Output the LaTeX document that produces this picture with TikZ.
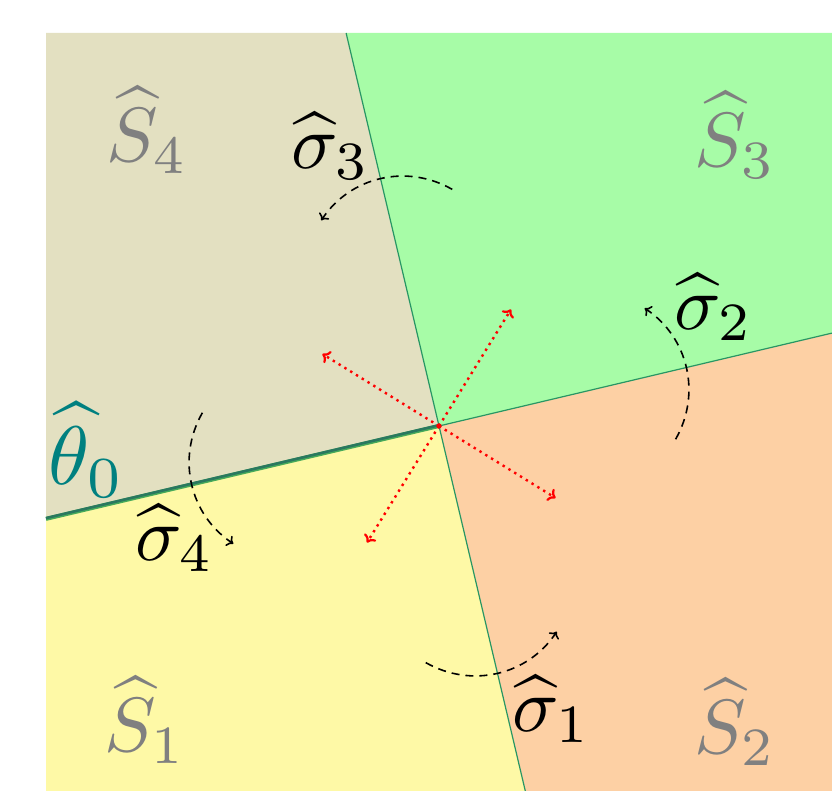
\documentclass[tikz,border=0pt]{standalone}
\usetikzlibrary{arrows.meta}
\definecolor{cbeige}{RGB}{227,224,193}
\definecolor{cgreen}{RGB}{167,252,167}
\definecolor{corange}{RGB}{253,208,164}
\definecolor{cyellow}{RGB}{254,249,166}
\definecolor{cbound}{RGB}{40,150,100}
\definecolor{ctheta}{RGB}{42,120,95}
\definecolor{cthetaedge}{RGB}{70,170,90}
\definecolor{clabel}{RGB}{128,128,128}
\begin{document}
\begin{tikzpicture}[x=1pt,y=1pt,
  bound/.style={draw=cbound,line width=1.2pt},
  thetaedge/.style={draw=cthetaedge,line width=4pt},
  thetaline/.style={draw=ctheta,line width=2.6pt},
  redarr/.style={draw=red,line width=2.4pt,dash pattern=on 2.4pt off 4.4pt,-{To[length=7pt,width=14pt,line width=2.2pt]}},
  rotarr/.style={draw=black,line width=1.6pt,dash pattern=on 8pt off 6pt,-{To[length=6pt,width=12pt,line width=1.6pt]},bend right=43},
  reglabel/.style={text=clabel,inner sep=0pt,font=\fontsize{10}{12}\selectfont,scale=7.7,transform shape},
  siglabel/.style={text=black,inner sep=0pt,font=\fontsize{10}{12}\selectfont,scale=7.7,transform shape},
  thlabel/.style={text=teal,inner sep=0pt,font=\fontsize{10}{12}\selectfont,scale=8.3,transform shape}]
\useasboundingbox (0,0) rectangle (832,791);
\coordinate (O) at (439,365);
\coordinate (T) at (346.1,758);
\coordinate (R) at (832,457.9);
\coordinate (B) at (525.3,0);
\coordinate (L) at (46,272.1);
\coordinate (TL) at (46,758);
\coordinate (TR) at (832,758);
\coordinate (BR) at (832,0);
\coordinate (BL) at (46,0);
% regions
\fill[cbeige] (O) -- (L) -- (TL) -- (T) -- cycle;
\fill[cgreen] (O) -- (T) -- (TR) -- (R) -- cycle;
\fill[corange] (O) -- (R) -- (BR) -- (B) -- cycle;
\fill[cyellow] (O) -- (B) -- (BL) -- (L) -- cycle;
% boundaries
\draw[bound] (T) -- (B);
\draw[bound] (O) -- (R);
\draw[thetaedge] (L) -- (O);
\draw[thetaline,transform canvas={yshift=0.8pt}] (L) -- (O);
% red arrows
\coordinate (ne) at ([shift={(58.3:137)}]O);
\coordinate (nw) at ([shift={(148.3:137)}]O);
\coordinate (sw) at ([shift={(238.3:137)}]O);
\coordinate (se) at ([shift={(328.3:137)}]O);
\draw[redarr] (O) -- (ne);
\draw[redarr] (O) -- (nw);
\draw[redarr] (O) -- (sw);
\draw[redarr] (O) -- (se);
\fill[red] (O) circle (2.6pt);
% rotation arrows
\coordinate (a2s) at ([shift={(-3.2:237)}]O);
\coordinate (a2e) at ([shift={(29.8:237)}]O);
\coordinate (a3s) at ([shift={(86.8:237)}]O);
\coordinate (a3e) at ([shift={(119.8:237)}]O);
\coordinate (a4s) at ([shift={(176.8:237)}]O);
\coordinate (a4e) at ([shift={(209.8:237)}]O);
\coordinate (a1s) at ([shift={(266.8:237)}]O);
\coordinate (a1e) at ([shift={(299.8:237)}]O);
\draw[rotarr] (a1s) to (a1e);
\draw[rotarr] (a2s) to (a2e);
\draw[rotarr] (a3s) to (a3e);
\draw[rotarr] (a4s) to (a4e);
% labels
\node[reglabel] (S4) at (147,661) {$\widehat{S}_4$};
\node[reglabel] (S3) at (735,656) {$\widehat{S}_3$};
\node[reglabel] (S1) at (145,71) {$\widehat{S}_1$};
\node[reglabel] (S2) at (735,69) {$\widehat{S}_2$};
\node[siglabel] (s3) at (331,645) {$\widehat{\sigma}_3$};
\node[siglabel] (s2) at (714,484) {$\widehat{\sigma}_2$};
\node[siglabel] (s1) at (552,82) {$\widehat{\sigma}_1$};
\node[siglabel] (s4) at (175,253) {$\widehat{\sigma}_4$};
\node[thlabel] (th) at (87,341) {$\widehat{\theta}_0$};
\end{tikzpicture}
\end{document}
